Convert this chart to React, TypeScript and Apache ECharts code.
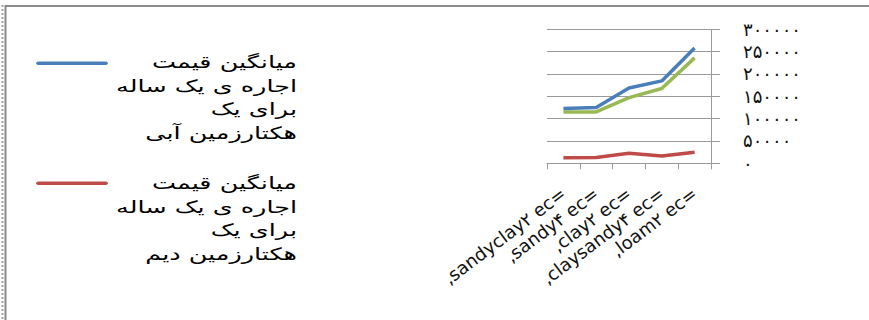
import React, { useEffect, useRef } from 'react';
import * as echarts from 'echarts';

// Soil type / salinity classes along the x axis
const categories = [',sandyclay۲ ec=', ',sandy۴ ec=', ',clay۲ ec=', ',claysandy۴ ec=', ',loam۲ ec='];

// Average one-year rent per hectare
const irrigatedRent = [122500, 125000, 168500, 184500, 258000];
const thirdSeries = [115000, 115000, 147000, 167500, 236000];
const rainfedRent = [12500, 13000, 22500, 16500, 24500];

const yTickLabels = ['۰', '۵۰۰۰۰', '۱۰۰۰۰۰', '۱۵۰۰۰۰', '۲۰۰۰۰۰', '۲۵۰۰۰۰', '۳۰۰۰۰۰'];
const yStep = 50000;

const irrigatedLines = ['میانگین قیمت', 'اجاره ی یک ساله', 'برای یک', 'هکتارزمین آبی'];
const rainfedLines = ['میانگین قیمت', 'اجاره ی یک ساله', 'برای یک', 'هکتارزمین دیم'];

const BLUE = '#4A7EBB';
const RED = '#BE4B48';
const GREEN = '#98B954';
const AXIS_GRAY = '#9a9a9a';
const FONT = "'DejaVu Sans', 'Liberation Sans', sans-serif";

function legendEntry(lines: string[], color: string, lineY: number, textYs: number[]) {
  return {
    type: 'group',
    children: [
      {
        type: 'line',
        shape: { x1: 38, y1: lineY, x2: 106, y2: lineY },
        style: { stroke: color, lineWidth: 3.5, lineCap: 'round' },
      },
      ...lines.map((t, i) => ({
        type: 'text',
        x: 297,
        y: textYs[i],
        scaleX: 1.5,
        style: {
          text: t,
          align: 'right',
          verticalAlign: 'middle',
          fontSize: 17,
          fontFamily: FONT,
          fill: '#000',
        },
      })),
    ],
  };
}

export default function App() {
  const ref = useRef<HTMLDivElement>(null);

  useEffect(() => {
    document.body.style.margin = '0';
    const chart = echarts.init(ref.current!, null, { renderer: 'svg' });
    chart.setOption({
      animation: false,
      backgroundColor: '#fff',
      grid: { left: 547, right: 158, top: 29.3, bottom: 156.7, containLabel: false },
      xAxis: {
        type: 'category',
        data: categories,
        boundaryGap: true,
        axisLine: { show: true, lineStyle: { color: AXIS_GRAY, width: 1 } },
        axisTick: { show: true, length: 6, alignWithLabel: false, lineStyle: { color: AXIS_GRAY } },
        axisLabel: {
          interval: 0,
          rotate: 37,
          margin: 28,
          fontSize: 18,
          fontFamily: FONT,
          color: '#111',
        },
        splitLine: { show: false },
      },
      yAxis: {
        type: 'value',
        position: 'right',
        min: 0,
        max: 300000,
        interval: yStep,
        axisLine: { show: true, lineStyle: { color: AXIS_GRAY, width: 1 } },
        axisTick: { show: true, length: 9, inside: false, lineStyle: { color: AXIS_GRAY } },
        axisLabel: {
          margin: 32,
          fontSize: 18,
          fontFamily: FONT,
          color: '#111',
          formatter: (v: number) => yTickLabels[Math.round(v / yStep)] ?? '',
        },
        splitLine: { show: true, lineStyle: { color: AXIS_GRAY, width: 1 } },
      },
      series: [
        {
          name: irrigatedLines.join(' '),
          type: 'line',
          data: irrigatedRent,
          showSymbol: false,
          lineStyle: { color: BLUE, width: 3.5 },
          itemStyle: { color: BLUE },
          z: 3,
        },
        {
          name: 'سری سوم',
          type: 'line',
          data: thirdSeries,
          showSymbol: false,
          lineStyle: { color: GREEN, width: 3.5 },
          itemStyle: { color: GREEN },
          z: 2,
        },
        {
          name: rainfedLines.join(' '),
          type: 'line',
          data: rainfedRent,
          showSymbol: false,
          lineStyle: { color: RED, width: 3.5 },
          itemStyle: { color: RED },
          z: 2,
        },
      ],
      graphic: [
        // frame edges
        {
          type: 'line',
          shape: { x1: 5, y1: 6, x2: 869, y2: 6 },
          style: { stroke: '#8a8a8a', lineWidth: 2 },
        },
        {
          type: 'line',
          shape: { x1: 5.5, y1: 5, x2: 5.5, y2: 320 },
          style: { stroke: '#8a8a8a', lineWidth: 2 },
        },
        {
          type: 'line',
          shape: { x1: 2.5, y1: 5, x2: 2.5, y2: 320 },
          style: { stroke: '#a5a5a5', lineWidth: 2, lineDash: [2, 2] },
        },
        legendEntry(irrigatedLines, BLUE, 63.3, [62.3, 86, 109.5, 133]),
        legendEntry(rainfedLines, RED, 183.3, [183.3, 207, 230.5, 254]),
      ],
    });
    return () => chart.dispose();
  }, []);

  return <div ref={ref} style={{ width: 869, height: 320 }} />;
}
